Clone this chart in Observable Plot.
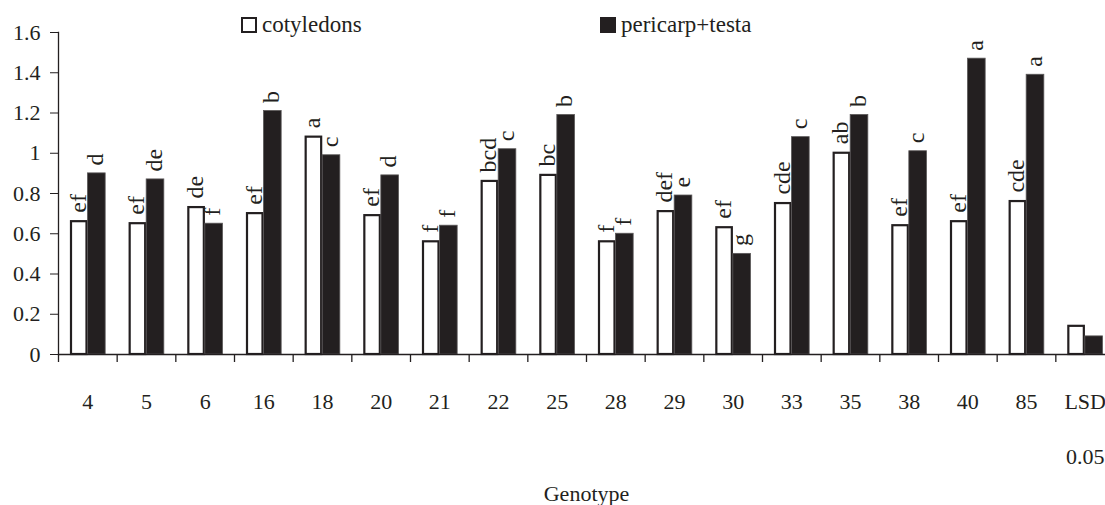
<!DOCTYPE html>
<html>
<head>
<meta charset="utf-8">
<script src="https://cdn.jsdelivr.net/npm/d3@7"></script>
<script src="https://cdn.jsdelivr.net/npm/@observablehq/plot@0.6"></script>
<style>
  html, body { margin: 0; padding: 0; background: #fff; overflow: hidden; }
  #wrap { position: relative; width: 1105px; height: 505px; }
  .leg { position: absolute; top: 12px; font-family: "Liberation Serif", serif; font-size: 23px; color: #231f20; display: flex; align-items: center; }
  .sw { width: 12px; height: 12px; border: 2px solid #231f20; margin-right: 5px; }
  #wrap svg text { font-family: "Liberation Serif", serif; }
</style>
</head>
<body>
<div id="wrap"></div>
<script>
const genotypes = ["4","5","6","16","18","20","21","22","25","28","29","30","33","35","38","40","85","LSD"];
const tickLabels = ["4","5","6","16","18","20","21","22","25","28","29","30","33","35","38","40","85","LSD\n0.05"];
const cotyledons = [0.66,0.65,0.73,0.70,1.08,0.69,0.56,0.86,0.89,0.56,0.71,0.63,0.75,1.00,0.64,0.66,0.76,0.14];
const pericarp   = [0.90,0.87,0.65,1.21,0.99,0.89,0.64,1.02,1.19,0.60,0.79,0.50,1.08,1.19,1.01,1.47,1.39,0.09];
const cotLetters = ["ef","ef","de","ef","a","ef","f","bcd","bc","f","def","ef","cde","ab","ef","ef","cde",""];
const perLetters = ["d","de","f","b","c","d","f","c","b","f","e","g","c","b","c","a","a",""];
const yTicks = [0, 0.2, 0.4, 0.6, 0.8, 1, 1.2, 1.4, 1.6];
const seriesNames = ["cotyledons", "pericarp+testa"];

const ink = "#231f20";
const font = "'Liberation Serif', serif";
const fs = 22;
const cot = genotypes.map((g, i) => ({g, v: cotyledons[i], t: cotLetters[i]}));
const per = genotypes.map((g, i) => ({g, v: pericarp[i], t: perLetters[i]}));
const labels = genotypes.map((g, i) => ({g, t: tickLabels[i]}));

const W = 1105, ML = 58, MR = -9;
const bw = (W - MR - ML) / genotypes.length;
const lh = 2.5;

const chart = Plot.plot({
  width: W,
  height: 505,
  marginLeft: ML,
  marginRight: MR,
  marginTop: 32,
  marginBottom: 151,
  style: {fontFamily: font, fontSize: fs + "px", color: ink, background: "#fff", maxWidth: "none"},
  x: {domain: genotypes, padding: 0, round: false, axis: null},
  y: {domain: [0, 1.6], axis: null},
  marks: [
    Plot.barY(cot, {x: "g", y: "v", fill: "#fff", stroke: ink, strokeWidth: 2.2, insetLeft: 13, insetRight: bw - 28.5}),
    Plot.barY(per, {x: "g", y: "v", fill: ink, stroke: "#5a5758", strokeWidth: 0.8, insetLeft: 29.5, insetRight: 11.5}),
    Plot.text(cot, {x: "g", y: "v", text: "t", rotate: -90, textAnchor: "start", dx: -10, dy: -9, fill: ink, fontSize: 24, fontFamily: font}),
    Plot.text(per, {x: "g", y: "v", text: "t", rotate: -90, textAnchor: "start", dx: 7.5, dy: -8, fill: ink, fontSize: 24, fontFamily: font}),
    Plot.axisY({ticks: yTicks, tickSize: 8, tickPadding: 10, tickFormat: d => d3.format("~g")(d), label: null, stroke: ink, fill: ink, fontSize: fs, fontFamily: font}),
    Plot.axisX({ticks: genotypes, tickSize: 8, tickFormat: () => "", label: null, dx: -bw / 2, stroke: ink, strokeWidth: 1.3}),
    Plot.frame({anchor: "left", stroke: ink, strokeWidth: 1.3}),
    Plot.ruleY([0], {stroke: ink, strokeWidth: 1.3}),
    Plot.text(labels, {x: "g", frameAnchor: "bottom", text: "t", lineAnchor: "top", dy: 39 - 0.71 * (lh - 1) * fs, lineHeight: lh, fill: ink, fontSize: fs, fontFamily: font}),
    Plot.text(["Genotype"], {frameAnchor: "bottom", lineAnchor: "top", dy: 131, fill: ink, fontSize: fs, fontFamily: font})
  ]
});

const wrap = document.getElementById("wrap");
wrap.appendChild(chart);

const legendPos = [241, 600];
seriesNames.forEach((name, i) => {
  const item = document.createElement("div");
  item.className = "leg";
  item.style.left = legendPos[i] + "px";
  const sw = document.createElement("span");
  sw.className = "sw";
  sw.style.background = i === 0 ? "#fff" : ink;
  const tx = document.createElement("span");
  tx.textContent = name;
  item.appendChild(sw);
  item.appendChild(tx);
  wrap.appendChild(item);
});
</script>
</body>
</html>
